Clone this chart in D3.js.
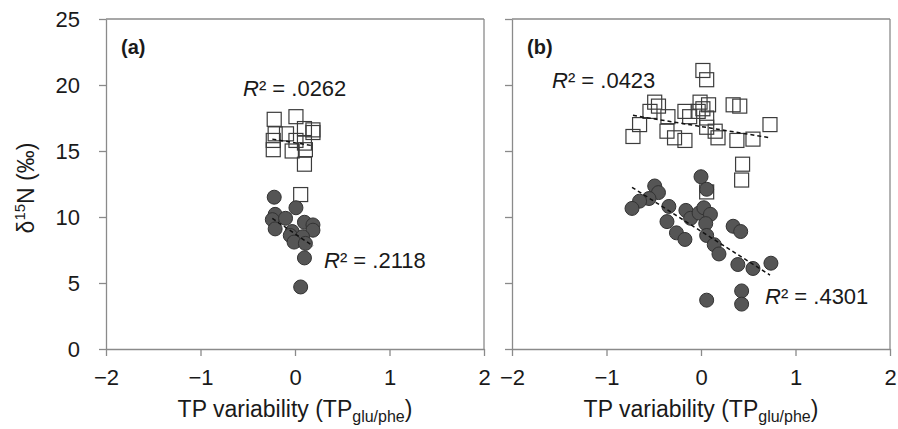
<!DOCTYPE html>
<html>
<head>
<meta charset="utf-8">
<script src="https://cdn.jsdelivr.net/npm/d3@7"></script>
<style>
  html, body { margin: 0; padding: 0; background: #fff; }
  svg { display: block; }
  text { font-family: "Liberation Sans", Arial, sans-serif; fill: #1a1a1a; }
</style>
</head>
<body>
<svg id="chart" width="898" height="429"></svg>
<script>
// ---------- data ----------
const xTicks = [-2, -1, 0, 1, 2];
const yTicks = [0, 5, 10, 15, 20, 25];

// panel (a)
const aOpen = [[-0.22,17.4],[0.01,17.6],[0.10,16.7],[0.19,16.6],[0.19,16.4],[-0.21,16.3],[-0.09,16.3],
  [-0.23,15.8],[0.01,15.8],[0.10,15.6],[-0.23,15.1],[-0.03,15.0],[0.11,15.1],[0.10,14.0],[0.06,11.7]];
const aFilled = [[-0.22,11.5],[0.01,10.7],[-0.21,10.2],[-0.24,9.8],[-0.10,9.9],[-0.21,9.1],[0.10,9.6],
  [0.19,9.4],[0.19,9.0],[-0.03,8.9],[-0.05,8.6],[0.08,8.5],[-0.01,8.1],[0.11,8.0],[0.10,6.9],[0.06,4.7]];
const aOpenTrend = [[-0.24,15.9],[0.19,15.4]];
const aFilledTrend = [[-0.24,9.9],[0.19,7.8]];

// panel (b)
const bOpen = [[0.02,21.1],[0.06,20.4],[-0.49,18.7],[-0.45,18.4],[-0.01,18.7],[0.08,18.5],[0.02,18.2],
  [0.34,18.5],[0.41,18.4],[-0.54,18.0],[-0.35,17.6],[-0.17,18.0],[-0.12,17.6],[-0.03,18.0],[0.06,17.5],
  [-0.65,17.0],[-0.72,16.1],[-0.36,16.5],[-0.28,16.0],[-0.17,15.8],[0.06,16.8],[0.15,16.5],[0.18,16.0],
  [0.38,15.8],[0.55,15.9],[0.73,17.0],[0.44,14.0],[0.43,12.8],[0.06,11.9]];
const bFilled = [[0.00,13.05],[0.06,12.1],[-0.49,12.35],[-0.45,11.85],[-0.55,11.4],[-0.65,11.2],[-0.73,10.65],
  [-0.34,10.8],[-0.16,10.5],[-0.11,9.9],[-0.02,10.3],[0.03,10.7],[0.10,10.2],[0.05,9.5],[-0.36,9.65],
  [-0.26,8.8],[-0.17,8.3],[0.06,8.6],[0.14,7.9],[0.19,7.2],[0.34,9.3],[0.42,8.9],[0.39,6.4],[0.55,6.1],
  [0.74,6.5],[0.43,4.4],[0.43,3.4],[0.06,3.7]];
const bOpenTrend = [[-0.72,17.7],[0.73,16.0]];
const bFilledTrend = [[-0.73,12.25],[0.73,5.6]];

const panels = [
  { id: "(a)", x0: 106, x1: 484, open: aOpen, filled: aFilled, openTrend: aOpenTrend, filledTrend: aFilledTrend,
    r2Open: ".0262", r2Filled: ".2118", r2OpenPos: [243, 96], r2FilledPos: [324, 268], yLabels: true },
  { id: "(b)", x0: 512, x1: 890, open: bOpen, filled: bFilled, openTrend: bOpenTrend, filledTrend: bFilledTrend,
    r2Open: ".0423", r2Filled: ".4301", r2OpenPos: [552, 88], r2FilledPos: [765, 304], yLabels: false }
];

// ---------- drawing ----------
const svg = d3.select("#chart");
const yTop = 19, yBot = 349;
const axisColor = "#8a8a8a";
const y = d3.scaleLinear().domain([0, 25]).range([yBot, yTop]);
const tickFont = 22, r2Font = 22, titleFont = 23;

panels.forEach(p => {
  const x = d3.scaleLinear().domain([-2, 2]).range([p.x0, p.x1]);
  const g = svg.append("g");

  // frame (top/right)
  g.append("line").attr("x1", p.x0).attr("x2", p.x1).attr("y1", yTop).attr("y2", yTop)
    .attr("stroke", axisColor).attr("stroke-width", 1.3);
  g.append("line").attr("x1", p.x1).attr("x2", p.x1).attr("y1", yTop).attr("y2", yBot)
    .attr("stroke", axisColor).attr("stroke-width", 1.3);

  // x axis
  const xa = g.append("g").attr("transform", `translate(0,${yBot})`)
    .call(d3.axisBottom(x).tickValues(xTicks).tickSize(7).tickSizeOuter(0).tickFormat(d3.format("d")));
  xa.select(".domain").attr("stroke", axisColor).attr("stroke-width", 1.3);
  xa.selectAll(".tick line").attr("stroke", axisColor).attr("stroke-width", 1.3);
  xa.selectAll(".tick text").attr("font-size", tickFont).attr("fill", "#1a1a1a")
    .attr("font-family", "Liberation Sans, Arial, sans-serif").attr("dy", "0").attr("y", 36);

  // y axis
  const ya = g.append("g").attr("transform", `translate(${p.x0},0)`)
    .call(d3.axisLeft(y).tickValues(yTicks).tickSize(7).tickSizeOuter(0)
      .tickFormat(p.yLabels ? d3.format("d") : () => ""));
  ya.select(".domain").attr("stroke", axisColor).attr("stroke-width", 1.3);
  ya.selectAll(".tick line").attr("stroke", axisColor).attr("stroke-width", 1.3);
  ya.selectAll(".tick text").attr("font-size", tickFont).attr("fill", "#1a1a1a")
    .attr("font-family", "Liberation Sans, Arial, sans-serif").attr("x", -26).attr("dy", "0.36em");

  // open squares
  const s = 14;
  g.selectAll("rect.open").data(p.open).enter().append("rect")
    .attr("x", d => x(d[0]) - s / 2).attr("y", d => y(d[1]) - s / 2)
    .attr("width", s).attr("height", s)
    .attr("fill", "none").attr("stroke", "#3c3c3c").attr("stroke-width", 1.2);

  // filled circles
  g.selectAll("circle.filled").data(p.filled).enter().append("circle")
    .attr("cx", d => x(d[0])).attr("cy", d => y(d[1])).attr("r", 7)
    .attr("fill", "#555555").attr("stroke", "#333333").attr("stroke-width", 1);

  // trend lines
  const line = d3.line().x(d => x(d[0])).y(d => y(d[1]));
  [p.openTrend, p.filledTrend].forEach(t => {
    g.append("path").attr("d", line(t)).attr("fill", "none")
      .attr("stroke", "#111").attr("stroke-width", 1.5).attr("stroke-dasharray", "4,3");
  });

  // panel label
  g.append("text").attr("x", p.x0 + 15).attr("y", 54).attr("font-size", 20)
    .attr("font-weight", "bold").text(p.id);

  // R² labels
  [[p.r2Open, p.r2OpenPos], [p.r2Filled, p.r2FilledPos]].forEach(([val, pos]) => {
    const t = g.append("text").attr("x", pos[0]).attr("y", pos[1]).attr("font-size", r2Font);
    t.append("tspan").attr("font-style", "italic").text("R");
    t.append("tspan").text("² = " + val);
  });

  // x axis title
  const xt = g.append("text").attr("x", (p.x0 + p.x1) / 2).attr("y", 417)
    .attr("font-size", titleFont).attr("text-anchor", "middle");
  xt.append("tspan").text("TP variability (TP");
  xt.append("tspan").attr("font-size", 16).attr("dy", 5).text("glu/phe");
  xt.append("tspan").attr("dy", -5).text(")");
});

// y axis title
const yt = svg.append("text").attr("transform", "translate(34,188) rotate(-90)")
  .attr("text-anchor", "middle").attr("font-size", titleFont);
yt.append("tspan").text("δ");
yt.append("tspan").attr("font-size", 15).attr("dy", -9).text("15");
yt.append("tspan").attr("dy", 9).text("N (‰)");
</script>
</body>
</html>
